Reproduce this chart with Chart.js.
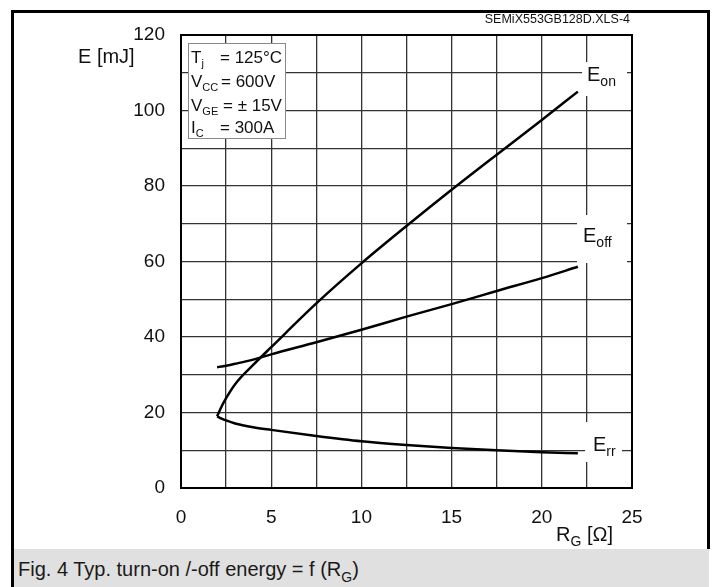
<!DOCTYPE html>
<html>
<head>
<meta charset="utf-8">
<script src="https://cdn.jsdelivr.net/npm/chart.js@4.4.1/dist/chart.umd.min.js"></script>
<style>
  body { margin: 0; background: #fff; }
  #wrap { position: relative; width: 717px; height: 587px; overflow: hidden; font-family: "Liberation Sans", Arial, sans-serif; }
  .bar { position: absolute; background: #000; }
  #caption { position: absolute; left: 14px; top: 549px; width: 695px; height: 38px; background: #e0e0e0; }
  #caption span { position: absolute; left: 4px; top: 10px; font-size: 20px; line-height: 20px; color: #1a1a1a; white-space: nowrap; }
  #caption sub { font-size: 14px; line-height: 0; vertical-align: -6px; }
  canvas { position: absolute; left: 0; top: 0; }
</style>
</head>
<body>
<div id="wrap">
  <div class="bar" style="left:11px;top:10px;width:699px;height:3px;"></div>
  <div class="bar" style="left:11px;top:10px;width:3px;height:577px;"></div>
  <div class="bar" style="left:707px;top:10px;width:3px;height:539px;"></div>
  <div id="caption"><span>Fig. 4 Typ. turn-on /-off energy = f (R<sub>G</sub>)</span></div>
  <canvas id="energyChart" width="717" height="587"></canvas>
</div>
<script>
// gate resistance [Ohm]
const rg = [2, 2.25, 2.5, 3, 4, 5, 7.5, 10, 12.5, 15, 17.5, 20, 22];
// switching energies [mJ]
const eOn  = [19, 21.6, 23.8, 27.5, 32.6, 37.3, 48.9, 59.5, 69.4, 79.0, 88.3, 97.5, 105];
const eOff = [32, 32.2, 32.4, 32.9, 34.0, 35.4, 38.6, 41.9, 45.4, 48.7, 52.2, 55.6, 58.6];
const eRr  = [19, 18.4, 17.9, 17.1, 16.1, 15.4, 13.8, 12.4, 11.4, 10.6, 10.0, 9.5, 9.2];

const xTicks = [0, 5, 10, 15, 20, 25];
const yTicks = [0, 20, 40, 60, 80, 100, 120];

const FONT = '"Liberation Sans", Arial, sans-serif';

function pts(ys) {
    return rg.map((x, i) => ({ x: x, y: ys[i] }));
}

// text with a subscript, returns end x
function subText(ctx, x, y, base, sub, size, subSize) {
    ctx.font = size + 'px ' + FONT;
    ctx.fillText(base, x, y);
    const w = ctx.measureText(base).width;
    ctx.font = (subSize || Math.round(size * 0.7)) + 'px ' + FONT;
    ctx.fillText(sub, x + w, y + Math.round(size * 0.25));
    return x + w + ctx.measureText(sub).width;
}

function whiteBox(ctx, x1, y1, x2, y2) {
    ctx.fillStyle = '#fff';
    ctx.fillRect(x1, y1, x2 - x1, y2 - y1);
}

const extras = {
    id: 'extras',
    afterDraw(chart) {
        const ctx = chart.ctx;
        const a = chart.chartArea;
        ctx.save();

        // condition box
        whiteBox(ctx, 188, 43, 285, 138);
        ctx.strokeStyle = '#8a8a8a';
        ctx.lineWidth = 1;
        ctx.strokeRect(188.5, 43.5, 97, 95);
        ctx.fillStyle = '#111';
        ctx.textAlign = 'left';
        ctx.textBaseline = 'alphabetic';
        subText(ctx, 191, 63, 'T', 'j', 17, 11);
        ctx.font = '17px ' + FONT; ctx.fillText('= 125°C', 220, 63);
        subText(ctx, 191, 87, 'V', 'CC', 17, 11);
        ctx.font = '17px ' + FONT; ctx.fillText('= 600V', 221, 87);
        subText(ctx, 191, 111, 'V', 'GE', 17, 11);
        ctx.font = '17px ' + FONT; ctx.fillText('= ± 15V', 223, 111);
        subText(ctx, 191, 133, 'I', 'C', 17, 11);
        ctx.font = '17px ' + FONT; ctx.fillText('= 300A', 220, 133);

        // curve labels
        whiteBox(ctx, 582, 62, 627, 96);
        whiteBox(ctx, 577, 215, 627, 263);
        whiteBox(ctx, 585, 422, 622, 462);
        ctx.fillStyle = '#111';
        subText(ctx, 587, 81, 'E', 'on', 20);
        subText(ctx, 583, 242, 'E', 'off', 20);
        subText(ctx, 593, 451, 'E', 'rr', 20);

        // plot frame
        ctx.strokeStyle = '#000';
        ctx.lineWidth = 2;
        ctx.strokeRect(a.left, a.top, a.right - a.left, a.bottom - a.top);

        // axis titles and file tag
        ctx.fillStyle = '#111';
        ctx.font = '20px ' + FONT;
        ctx.fillText('E [mJ]', 78, 63);
        const ex = subText(ctx, 556, 541, 'R', 'G', 20);
        ctx.font = '20px ' + FONT;
        ctx.fillText(' [Ω]', ex, 541);
        ctx.font = '12.5px ' + FONT;
        ctx.textAlign = 'right';
        ctx.fillText('SEMiX553GB128D.XLS-4', 630, 23);
        ctx.restore();
    }
};

const lineStyle = { borderColor: '#000', borderWidth: 2.5, pointRadius: 0, fill: false, cubicInterpolationMode: 'monotone' };

new Chart(document.getElementById('energyChart'), {
    type: 'line',
    data: {
        datasets: [
            Object.assign({ label: 'Eon', data: pts(eOn) }, lineStyle),
            Object.assign({ label: 'Eoff', data: pts(eOff) }, lineStyle),
            Object.assign({ label: 'Err', data: pts(eRr) }, lineStyle)
        ]
    },
    options: {
        responsive: false,
        animation: false,
        layout: { padding: { left: 0, right: 85, top: 35, bottom: 0 } },
        plugins: { legend: { display: false }, tooltip: { enabled: false } },
        scales: {
            x: {
                type: 'linear', min: 0, max: 25,
                afterFit: s => { s.height = 99; },
                afterBuildTicks: s => {
                    s.ticks = [];
                    for (let v = 0; v <= 25; v += 2.5) s.ticks.push({ value: v });
                },
                border: { display: false },
                grid: { color: '#333', lineWidth: 1.3, drawTicks: false },
                ticks: {
                    autoSkip: false, maxRotation: 0, padding: 18, color: '#111',
                    font: { family: FONT, size: 19 },
                    callback: v => xTicks.includes(v) ? String(v) : ''
                }
            },
            y: {
                type: 'linear', min: 0, max: 120,
                afterFit: s => { s.width = 181; },
                afterBuildTicks: s => {
                    s.ticks = [];
                    for (let v = 0; v <= 120; v += 10) s.ticks.push({ value: v });
                },
                border: { display: false },
                grid: { color: '#333', lineWidth: 1.3, drawTicks: false },
                ticks: {
                    autoSkip: false, padding: 16, color: '#111',
                    font: { family: FONT, size: 19 },
                    callback: v => yTicks.includes(v) ? String(v) : ''
                }
            }
        }
    },
    plugins: [extras]
});
</script>
</body>
</html>
